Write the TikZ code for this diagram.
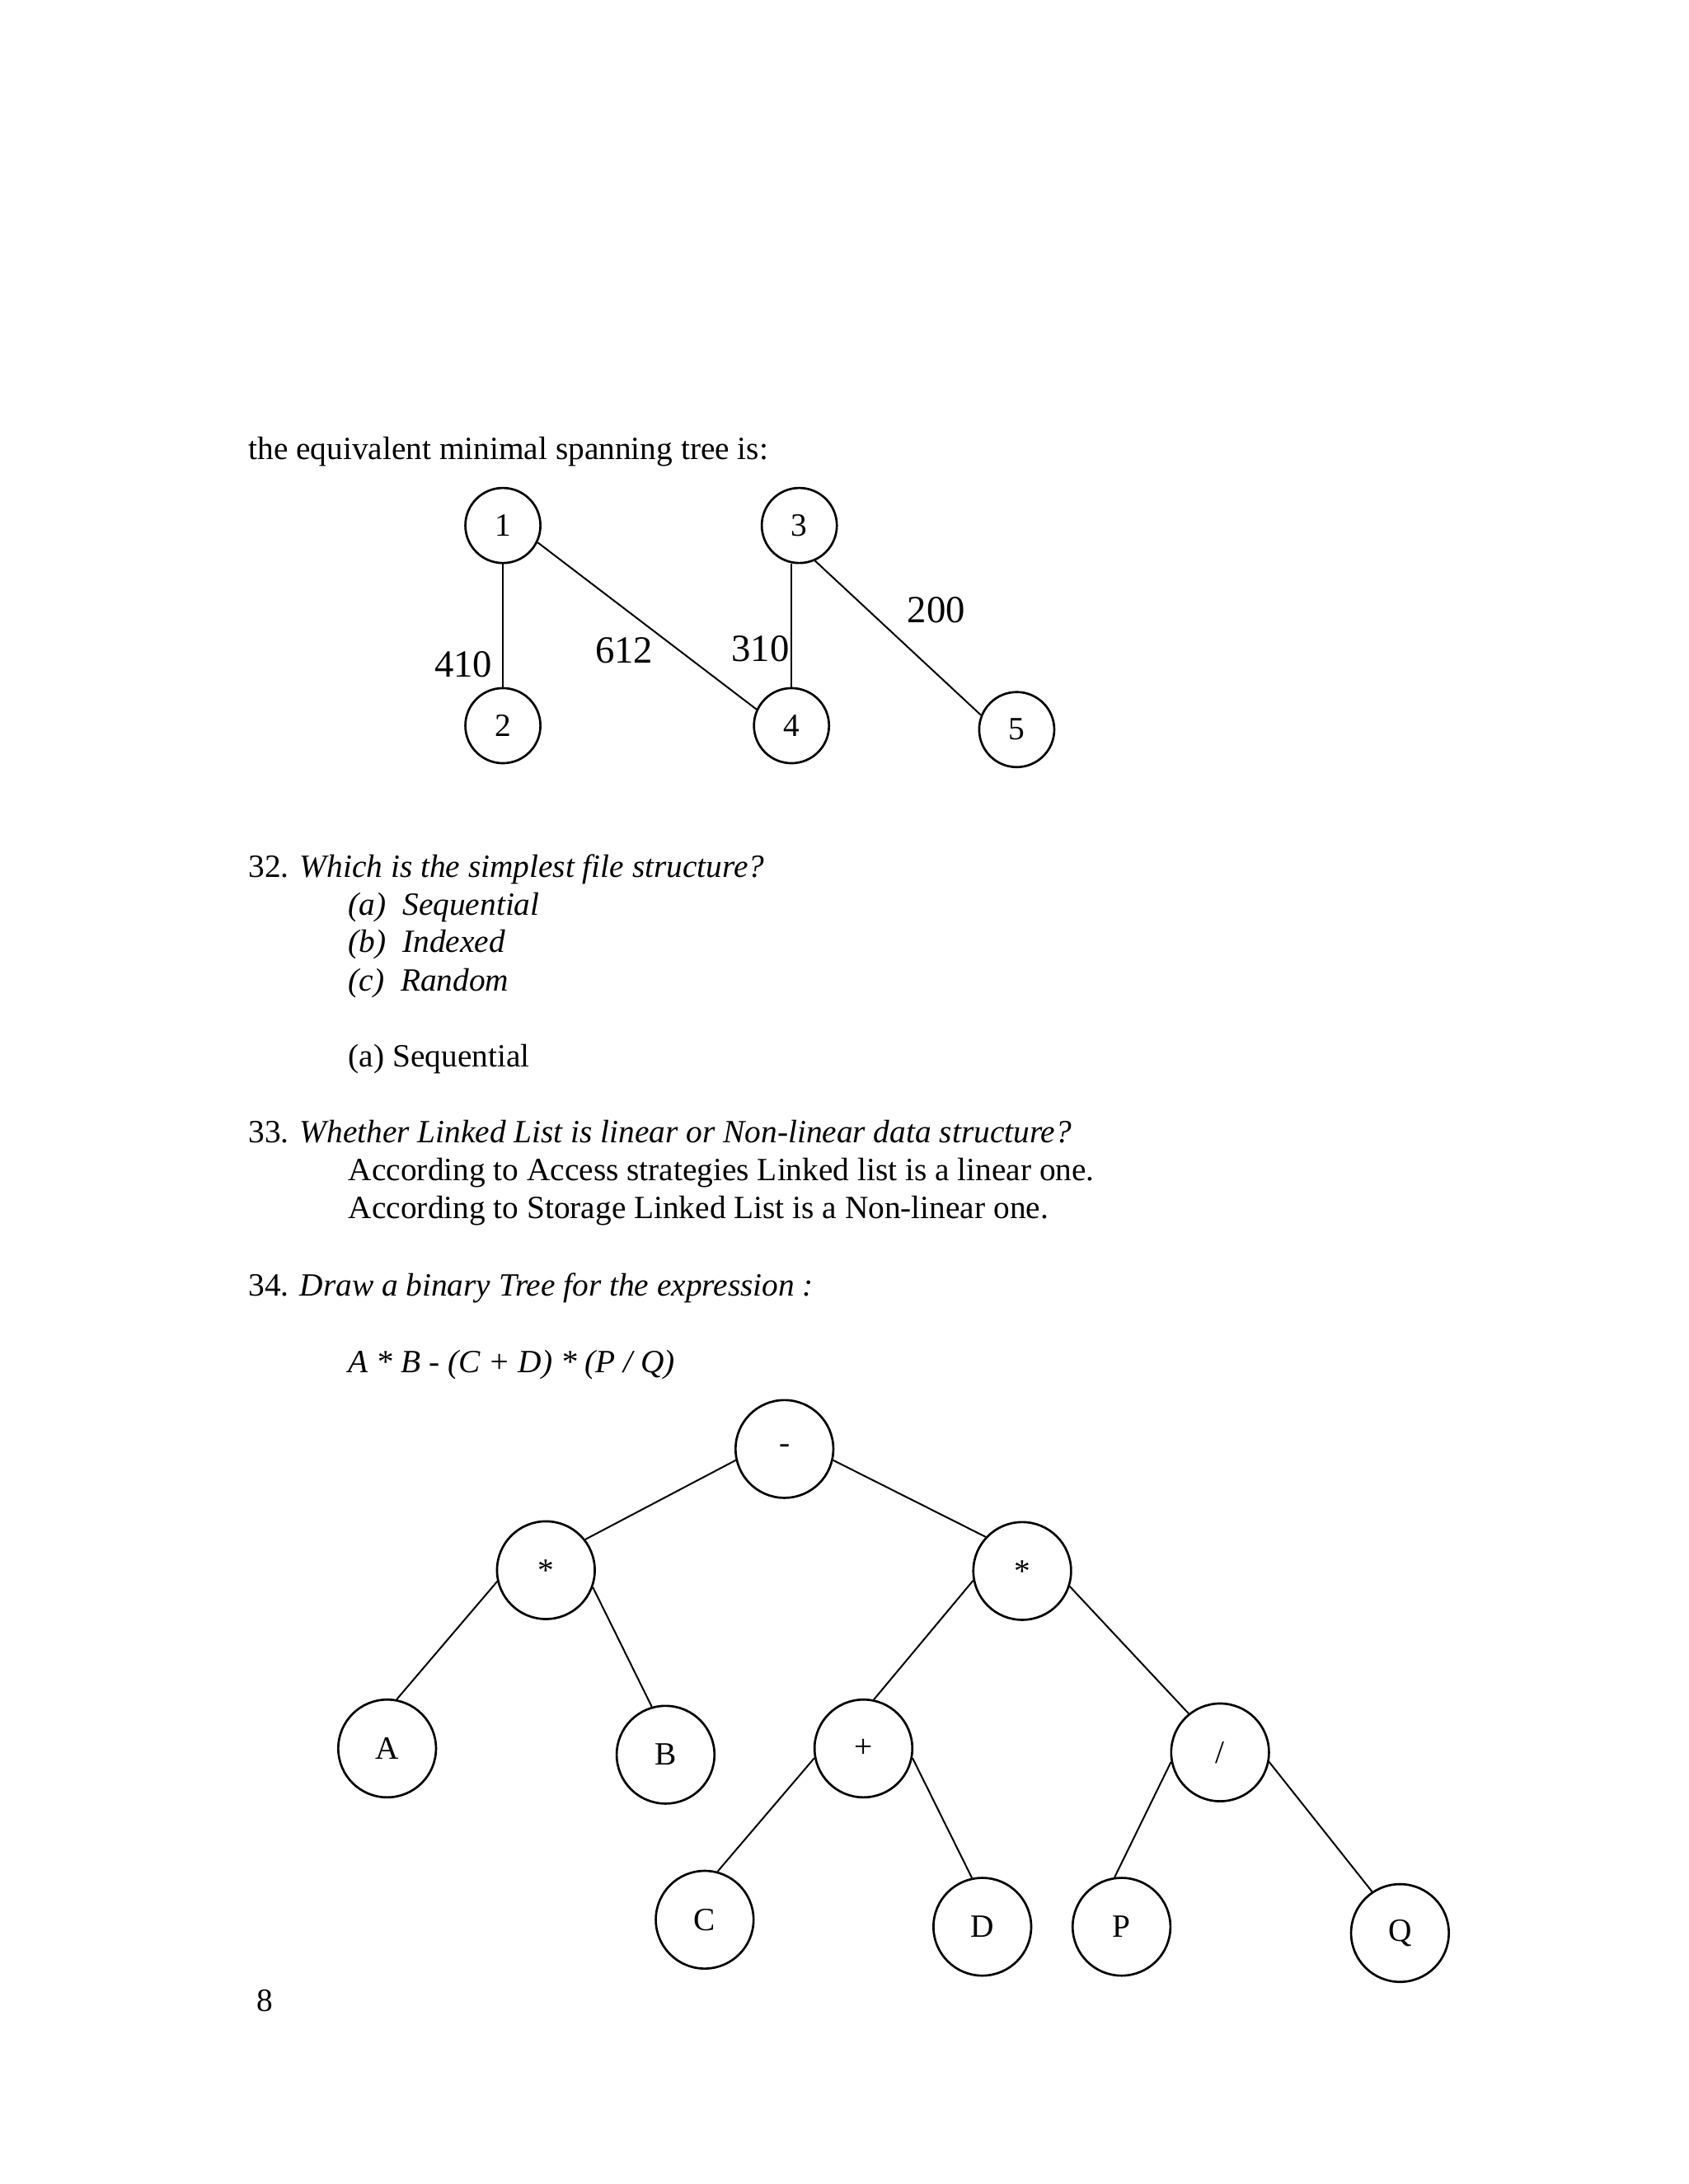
\documentclass[tikz,border=0pt]{standalone}
\usepackage{fontspec}
\setmainfont{Liberation Serif}
\usetikzlibrary{positioning}

\begin{document}
\begin{tikzpicture}[
  font=\fontsize{11.8}{14}\selectfont,
  txt/.style={anchor=base west, inner sep=0pt},
  vtx/.style={draw, circle, line width=0.8pt, minimum size=0.96cm, inner sep=0pt},
  opn/.style={draw, circle, line width=0.8pt, minimum size=1.25cm, inner sep=0pt},
  wt/.style={font=\fontsize{14}{16}\selectfont, inner sep=0pt},
  edge/.style={line width=0.6pt},
]
\useasboundingbox (0,0) rectangle (21.59,-27.93);

% page text
\node[txt] (t0) at (3.17, -5.88) {the equivalent minimal spanning tree is:};
\node[txt] (q32) at (3.17, -11.22) {32. \emph{Which is the simplest file structure?}};
\node[txt] (q32a) at (4.45, -11.70) {\emph{(a)\ \ Sequential}};
\node[txt] (q32b) at (4.45, -12.18) {\emph{(b)\ \ Indexed}};
\node[txt] (q32c) at (4.45, -12.67) {\emph{(c)\ \ Random}};
\node[txt] (a32) at (4.45, -13.64) {(a) Sequential};
\node[txt] (q33) at (3.17, -14.61) {33. \emph{Whether Linked List is linear or Non-linear data structure?}};
\node[txt] (a33a) at (4.45, -15.10) {According to Access strategies Linked list is a linear one.};
\node[txt] (a33b) at (4.45, -15.58) {According to Storage Linked List is a Non-linear one.};
\node[txt] (q34) at (3.17, -16.57) {34. \emph{Draw a binary Tree for the expression :}};
\node[txt] (expr) at (4.45, -17.55) {\emph{A * B - (C + D) * (P / Q)}};
\node[txt] (pg) at (3.28, -25.72) {8};

% minimal spanning tree
\node[vtx] (n1) at (6.43, -6.72) {1};
\node[vtx] (n3) at (10.22, -6.72) {3};
\node[vtx] (n2) at (6.43, -9.28) {2};
\node[vtx] (n4) at (10.12, -9.28) {4};
\node[vtx] (n5) at (13.00, -9.33) {5};

\foreach \a/\b in {n1.270/n2.90, n1.334/n4.155, n3.294/n5.158}
  \draw[edge] (\a) -- (\b);
\draw[edge] (n4.north |- n3.south) -- (n4.north);

\node[wt, anchor=east] (w12) at (6.30, -8.50) {410};
\node[wt] (w14) at (7.98, -8.32) {612};
\node[wt, anchor=east] (w34) at (10.10, -8.30) {310};
\node[wt] (w35) at (11.97, -7.80) {200};

% expression tree
\node[opn] (mi) at (10.03, -18.53) {-};
\node[opn] (s1) at (6.98, -20.08) {*};
\node[opn] (s2) at (13.07, -20.09) {*};
\node[opn] (nA) at (4.95, -22.36) {A};
\node[opn] (nB) at (8.51, -22.44) {B};
\node[opn] (pl) at (11.04, -22.36) {+};
\node[opn] (sl) at (15.60, -22.41) {/};
\node[opn] (nC) at (9.01, -24.55) {C};
\node[opn] (nD) at (12.56, -24.64) {D};
\node[opn] (nP) at (14.34, -24.64) {P};
\node[opn] (nQ) at (17.90, -24.72) {Q};

\foreach \a/\b in {mi.193/s1.38, mi.347/s2.137, s1.193/nA.79, s1.340/nB.106,
                   s2.191/pl.78, s2.342/sl.129, pl.191/nC.75, pl.349/nD.102,
                   sl.191/nP.98, sl.349/nQ.124}
  \draw[edge] (\a) -- (\b);
\end{tikzpicture}
\end{document}
